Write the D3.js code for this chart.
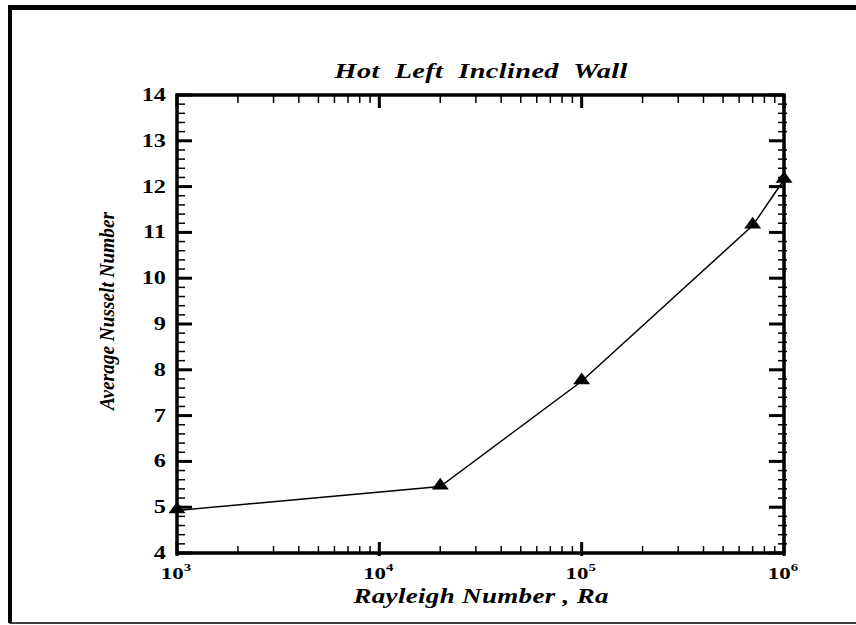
<!DOCTYPE html>
<html>
<head>
<meta charset="utf-8">
<script src="https://cdn.jsdelivr.net/npm/d3@7"></script>
<style>
  body { margin: 0; background: white; }
  svg { display: block; }
  text { font-family: "Liberation Serif", "Times New Roman", serif; font-weight: bold; white-space: pre; }
</style>
</head>
<body>
<svg id="chart" width="856" height="625"></svg>
<script>
// data
var rayleigh = [1e3, 2e4, 1e5, 7e5, 1e6];
var nusselt  = [4.93, 5.45, 7.75, 11.15, 12.15];
var yTicks   = [4, 5, 6, 7, 8, 9, 10, 11, 12, 13, 14];
var xDecades = [1e3, 1e4, 1e5, 1e6];

var svg = d3.select('#chart');
var SX = 1.35; // text in the picture is stretched horizontally

// outer frame
svg.append('rect').attr('x', 10).attr('y', 8).attr('width', 860).attr('height', 615)
  .attr('fill', 'none').attr('stroke', 'black').attr('stroke-width', 1.5);
svg.append('rect').attr('x', 8).attr('y', 5).attr('width', 860).attr('height', 5).attr('fill', 'black');
svg.append('rect').attr('x', 8).attr('y', 5).attr('width', 4).attr('height', 618).attr('fill', 'black');

var pLeft = 177, pRight = 784, pTop = 95, pBottom = 553;

var x = d3.scaleLog().domain([1e3, 1e6]).range([pLeft, pRight]);
var y = d3.scaleLinear().domain([4, 14]).range([pBottom, pTop]);

var g = svg.append('g');

// minor y ticks
var yMinor = [];
for (var i = 0; i < 50; i++) {
  if (i % 5 != 0) yMinor.push(4 + i * 0.2);
}
// minor x ticks
var xMinor = [];
xDecades.slice(0, 3).forEach(function(d) {
  for (var k = 2; k <= 9; k++) xMinor.push(d * k);
});

var ticks = g.append('g');
yMinor.forEach(function(v) {
  ticks.append('line').attr('x1', pLeft).attr('x2', pLeft + 8).attr('y1', y(v)).attr('y2', y(v))
    .attr('stroke', 'black').attr('stroke-width', 1.5);
  ticks.append('line').attr('x1', pRight - 6).attr('x2', pRight + 3).attr('y1', y(v)).attr('y2', y(v))
    .attr('stroke', 'black').attr('stroke-width', 1.5);
});
yTicks.forEach(function(v) {
  ticks.append('line').attr('x1', pLeft).attr('x2', pLeft + 15).attr('y1', y(v)).attr('y2', y(v))
    .attr('stroke', 'black').attr('stroke-width', 3);
  ticks.append('line').attr('x1', pRight - 15).attr('x2', pRight).attr('y1', y(v)).attr('y2', y(v))
    .attr('stroke', 'black').attr('stroke-width', 3);
});
xMinor.forEach(function(v) {
  ticks.append('line').attr('x1', x(v)).attr('x2', x(v)).attr('y1', pBottom).attr('y2', pBottom - 7)
    .attr('stroke', 'black').attr('stroke-width', 1.5);
  ticks.append('line').attr('x1', x(v)).attr('x2', x(v)).attr('y1', pTop).attr('y2', pTop + 8)
    .attr('stroke', 'black').attr('stroke-width', 1.5);
});
xDecades.forEach(function(v) {
  ticks.append('line').attr('x1', x(v)).attr('x2', x(v)).attr('y1', pBottom + 3).attr('y2', pBottom - 11)
    .attr('stroke', 'black').attr('stroke-width', 3);
  ticks.append('line').attr('x1', x(v)).attr('x2', x(v)).attr('y1', pTop).attr('y2', pTop + 13)
    .attr('stroke', 'black').attr('stroke-width', 3);
});

// plot box
g.append('rect').attr('x', pLeft).attr('y', pTop).attr('width', pRight - pLeft).attr('height', pBottom - pTop)
  .attr('fill', 'none').attr('stroke', 'black').attr('stroke-width', 3.5);

// y tick labels
g.selectAll('.ylab').data(yTicks).enter().append('text')
  .attr('transform', d => 'translate(' + (pLeft - 11) + ',' + (y(d) + 6) + ') scale(' + SX + ',1)')
  .attr('text-anchor', 'end').attr('font-size', '18px')
  .text(d => d);

// x tick labels 10^n
var xl = g.selectAll('.xlab').data(xDecades).enter().append('text')
  .attr('transform', d => 'translate(' + (x(d) - 1) + ',579) scale(' + SX + ',1)')
  .attr('text-anchor', 'middle').attr('font-size', '17px');
xl.append('tspan').text('10');
xl.append('tspan').attr('dy', -8).attr('font-size', '11px').text(d => Math.round(Math.log10(d)));

// data line
var pts = rayleigh.map((r, i) => [x(r), y(nusselt[i])]);
g.append('path')
  .attr('d', d3.line()(pts))
  .attr('fill', 'none').attr('stroke', 'black').attr('stroke-width', 1.5);

g.selectAll('.mark').data(pts).enter().append('path')
  .attr('transform', d => 'translate(' + d[0] + ',' + (d[1] - 1) + ') scale(1.25,1)')
  .attr('d', d3.symbol().type(d3.symbolTriangle).size(80))
  .attr('fill', 'black');

// titles
svg.append('text').attr('transform', 'translate(481,78) scale(' + SX + ',1)').attr('text-anchor', 'middle')
  .attr('font-size', '21px').attr('font-style', 'italic')
  .attr('textLength', 217).attr('lengthAdjust', 'spacing')
  .text('Hot  Left  Inclined  Wall');

svg.append('text').attr('transform', 'translate(481,603) scale(' + SX + ',1)').attr('text-anchor', 'middle')
  .attr('font-size', '20px').attr('font-style', 'italic')
  .attr('textLength', 189).attr('lengthAdjust', 'spacing')
  .text('Rayleigh Number , Ra');

svg.append('text').attr('transform', 'translate(114,311) rotate(-90)').attr('text-anchor', 'middle')
  .attr('font-size', '22px').attr('font-style', 'italic')
  .attr('textLength', 198).attr('lengthAdjust', 'spacingAndGlyphs')
  .text('Average Nusselt Number');
</script>
</body>
</html>
